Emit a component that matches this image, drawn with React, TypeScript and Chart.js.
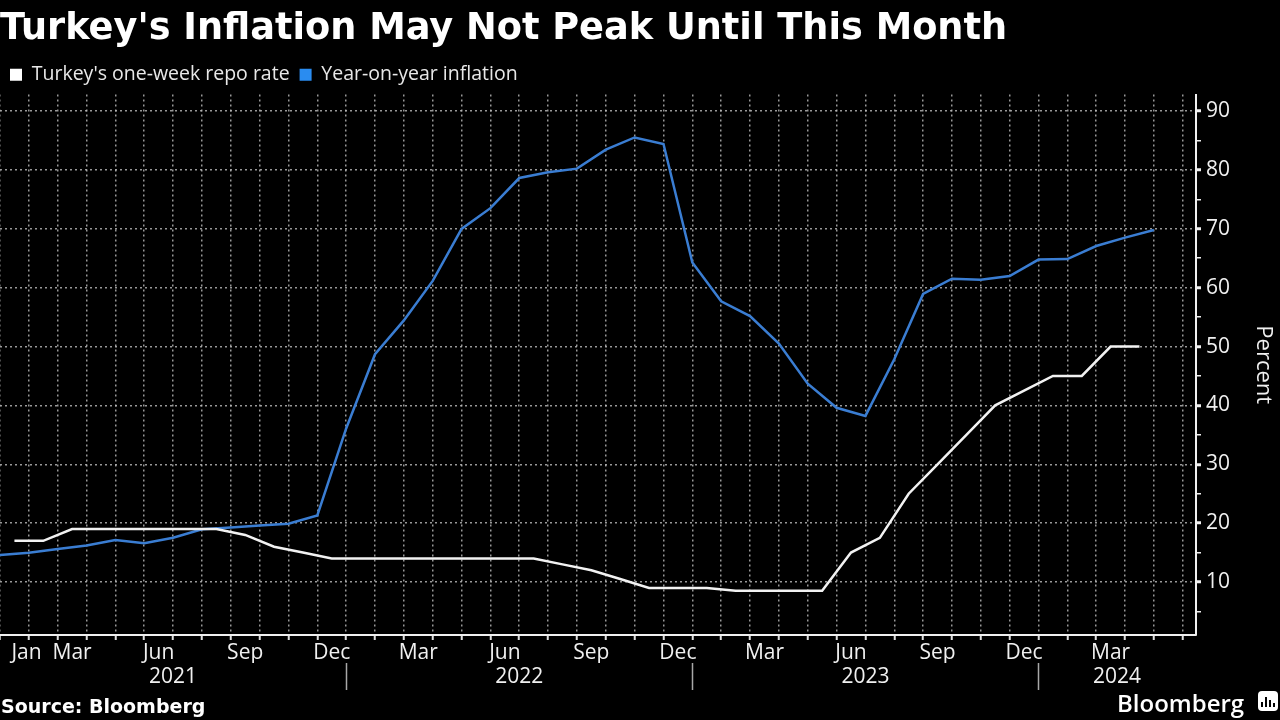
import React, { useEffect, useRef } from 'react';
import { Chart, registerables } from 'chart.js';

Chart.register(...registerables);

// Year-on-year CPI inflation, Dec 2020 .. Apr 2024 (month-end)
const inflationValues = [
  14.6, 14.97, 15.61, 16.19, 17.14, 16.59, 17.53, 18.95, 19.25, 19.58, 19.89, 21.31,
  36.08, 48.69, 54.44, 61.14, 69.97, 73.5, 78.62, 79.6, 80.21, 83.45, 85.51, 84.39,
  64.27, 57.68, 55.18, 50.51, 43.68, 39.59, 38.21, 47.83, 58.94, 61.53, 61.36, 61.98,
  64.77, 64.86, 67.07, 68.5, 69.8,
];

// One-week repo rate, Jan 2021 .. Apr 2024 (mid-month)
const repoValues = [
  17, 17, 19, 19, 19, 19, 19, 19, 18, 16, 15, 14,
  14, 14, 14, 14, 14, 14, 14, 13, 12, 10.5, 9, 9,
  9, 8.5, 8.5, 8.5, 8.5, 15, 17.5, 25, 30, 35, 40, 42.5,
  45, 45, 50, 50,
];

const monthTickLabels = ['Jan', 'Mar', 'Jun', 'Sep', 'Dec', 'Mar', 'Jun', 'Sep', 'Dec', 'Mar', 'Jun', 'Sep', 'Dec', 'Mar'];
const monthTickPositions = [0.92, 2.5, 5.5, 8.5, 11.5, 14.5, 17.5, 20.5, 23.5, 26.5, 29.5, 32.5, 35.5, 38.5];
const yearLabels = ['2021', '2022', '2023', '2024'];
const yearLabelPositions = [6, 18, 30, 38.72];
const yearBoundaries = [12, 24, 36];
const yTickValues = [5, 10, 15, 20, 25, 30, 35, 40, 45, 50, 55, 60, 65, 70, 75, 80, 85, 90];

const X_MAX = 41.46;
const Y_MIN = 1;
const Y_MAX = 92.8;

const FONT = "'Open Sans', 'Noto Sans', sans-serif";
const BOLD_FONT = "'DejaVu Sans', 'Noto Sans', sans-serif";

export default function App() {
  const canvasRef = useRef<HTMLCanvasElement | null>(null);

  useEffect(() => {
    document.body.style.margin = '0';
    document.body.style.background = '#000';
    const canvas = canvasRef.current;
    if (!canvas) return;

    const inflationPoints = inflationValues.map((v, i) => ({ x: i, y: v }));
    const repoPoints = repoValues.map((v, i) => ({ x: i + 0.5, y: v }));

    const monthLabelMap = new Map<number, string>();
    monthTickPositions.forEach((p, i) => monthLabelMap.set(p, monthTickLabels[i]));
    const yearLabelMap = new Map<number, string>();
    yearLabelPositions.forEach((p, i) => yearLabelMap.set(p, yearLabels[i]));

    const chart = new Chart(canvas, {
      type: 'line',
      data: {
        datasets: [
          {
            label: "Turkey's one-week repo rate",
            data: repoPoints,
            borderColor: '#f2f2f2',
            backgroundColor: '#ffffff',
            borderWidth: 2.5,
            pointRadius: 0,
            tension: 0,
            fill: false,
          },
          {
            label: 'Year-on-year inflation',
            data: inflationPoints,
            borderColor: '#3a7dd2',
            backgroundColor: '#2a8cf0',
            borderWidth: 2.5,
            pointRadius: 0,
            tension: 0,
            fill: false,
          },
        ],
      },
      options: {
        responsive: false,
        animation: false,
        devicePixelRatio: 1,
        layout: { padding: { left: 0, right: 0, top: 0, bottom: 27 } },
        plugins: {
          title: {
            display: true,
            text: "Turkey's Inflation May Not Peak Until This Month",
            align: 'start',
            color: '#ffffff',
            font: { family: BOLD_FONT, size: 36.7, weight: 'bold' },
            padding: { top: 7, bottom: 4 },
          },
          legend: {
            display: true,
            align: 'start',
            labels: {
              color: '#e8e8e8',
              font: { family: FONT, size: 19.5 },
              boxWidth: 12,
              boxHeight: 12,
              padding: 10,
              generateLabels: (c: any) =>
                Chart.defaults.plugins.legend.labels.generateLabels(c).map((l: any) => ({ ...l, lineWidth: 0 })),
            },
          },
          tooltip: { enabled: false },
        },
        scales: {
          x: {
            type: 'linear',
            position: 'bottom',
            min: 0,
            max: X_MAX,
            weight: 0,
            afterBuildTicks: (scale: any) => {
              const t: { value: number }[] = [];
              for (let i = 0; i <= Math.floor(X_MAX); i++) t.push({ value: i });
              monthTickPositions.forEach((p) => t.push({ value: p }));
              t.sort((a, b) => a.value - b.value);
              scale.ticks = t;
            },
            afterFit: (scale: any) => {
              scale.height = 28;
            },
            ticks: {
              autoSkip: false,
              maxRotation: 0,
              minRotation: 0,
              padding: 0,
              color: '#f0f0f0',
              font: { family: FONT, size: 21 },
              callback: (value: any) => monthLabelMap.get(Number(value)) ?? '',
            },
            grid: {
              display: true,
              drawOnChartArea: true,
              drawTicks: true,
              tickLength: 5,
              lineWidth: 1.5,
              color: (ctx: any) =>
                ctx.tick && Number.isInteger(ctx.tick.value) ? 'rgba(190,190,190,0.8)' : 'rgba(0,0,0,0)',
              tickColor: (ctx: any) =>
                ctx.tick && Number.isInteger(ctx.tick.value) ? '#e0e0e0' : 'rgba(0,0,0,0)',
              tickWidth: 2,
            },
            border: { display: true, color: '#f0f0f0', width: 2, dash: [2, 3] },
          },
          x2: {
            type: 'linear',
            position: 'bottom',
            min: 0,
            max: X_MAX,
            weight: 1,
            afterBuildTicks: (scale: any) => {
              const t: { value: number }[] = [];
              yearBoundaries.forEach((b) => t.push({ value: b }));
              yearLabelPositions.forEach((p) => t.push({ value: p }));
              t.sort((a, b) => a.value - b.value);
              scale.ticks = t;
            },
            afterFit: (scale: any) => {
              scale.height = 30;
            },
            ticks: {
              autoSkip: false,
              maxRotation: 0,
              minRotation: 0,
              padding: -26,
              color: '#f0f0f0',
              font: { family: FONT, size: 21 },
              callback: (value: any) => yearLabelMap.get(Number(value)) ?? '',
            },
            grid: {
              display: true,
              drawOnChartArea: false,
              drawTicks: true,
              tickLength: 27,
              tickWidth: 1.5,
              tickColor: (ctx: any) =>
                ctx.tick && yearBoundaries.includes(ctx.tick.value) ? '#a8a8a8' : 'rgba(0,0,0,0)',
            },
            border: { display: false },
          },
          y: {
            type: 'linear',
            position: 'right',
            min: Y_MIN,
            max: Y_MAX,
            afterBuildTicks: (scale: any) => {
              scale.ticks = yTickValues.map((v) => ({ value: v }));
            },
            afterFit: (scale: any) => {
              scale.width = 84;
            },
            ticks: {
              autoSkip: false,
              padding: 5,
              color: '#f0f0f0',
              font: { family: FONT, size: 21 },
              callback: (value: any) => (Number(value) % 10 === 0 ? String(value) : ''),
            },
            grid: {
              display: true,
              drawOnChartArea: true,
              drawTicks: true,
              tickLength: 5,
              lineWidth: 1.5,
              color: (ctx: any) =>
                ctx.tick && ctx.tick.value % 10 === 0 ? 'rgba(190,190,190,0.8)' : 'rgba(0,0,0,0)',
              tickColor: '#f0f0f0',
              tickWidth: (ctx: any) => (ctx.tick && ctx.tick.value % 10 === 0 ? 3 : 1.5),
            },
            border: { display: true, color: '#f0f0f0', width: 2, dash: [2, 3] },
            title: {
              display: true,
              text: 'Percent',
              color: '#f0f0f0',
              font: { family: FONT, size: 22 },
              padding: { top: 4, bottom: 4 },
            },
          },
        },
      } as any,
    });

    return () => chart.destroy();
  }, []);

  return (
    <div
      style={{
        position: 'fixed',
        left: 0,
        top: 0,
        width: 1280,
        height: 720,
        background: '#000',
        overflow: 'hidden',
      }}
    >
      <canvas ref={canvasRef} width={1280} height={720} style={{ display: 'block', width: 1280, height: 720 }} />
      <div
        style={{
          position: 'absolute',
          left: 1,
          top: 693,
          color: '#ffffff',
          fontFamily: BOLD_FONT,
          fontWeight: 'bold',
          fontSize: 19,
          lineHeight: '26px',
          whiteSpace: 'nowrap',
        }}
      >
        Source: Bloomberg
      </div>
      <div
        style={{
          position: 'absolute',
          left: 1117,
          top: 688,
          color: '#ffffff',
          fontFamily: FONT,
          fontWeight: 600,
          fontSize: 24,
          lineHeight: '30px',
          whiteSpace: 'nowrap',
        }}
      >
        Bloomberg
      </div>
      <div
        style={{
          position: 'absolute',
          left: 1258,
          top: 691,
          width: 20,
          height: 20,
          borderRadius: 4,
          background: '#ffffff',
          display: 'flex',
          alignItems: 'flex-end',
          justifyContent: 'center',
          gap: 2,
          paddingBottom: 4,
          boxSizing: 'border-box',
        }}
      >
        <div style={{ width: 2, height: 5, background: '#000' }} />
        <div style={{ width: 2, height: 10, background: '#000' }} />
        <div style={{ width: 2, height: 7, background: '#000' }} />
        <div style={{ width: 2, height: 4, background: '#000' }} />
      </div>
    </div>
  );
}
